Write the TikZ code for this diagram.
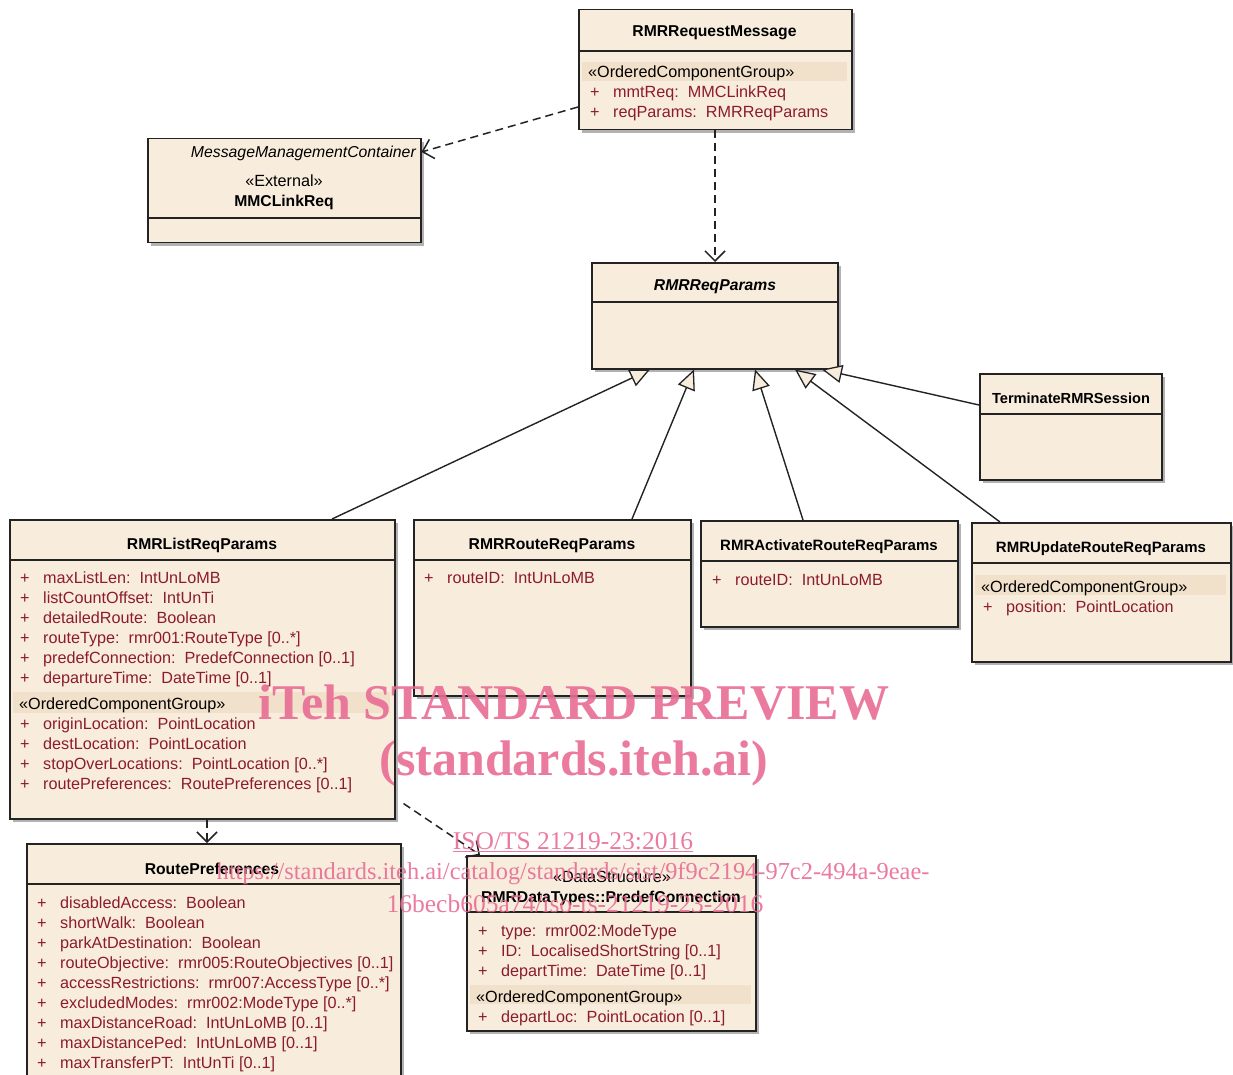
\documentclass[tikz,border=0pt]{standalone}
\usepackage{fontspec}
\setmainfont{Liberation Sans}
\newfontfamily\wmfont{Liberation Serif}
\usetikzlibrary{arrows.meta,calc}
\definecolor{clsfill}{RGB}{248,237,221}
\definecolor{bandfill}{RGB}{242,225,202}
\definecolor{attrc}{RGB}{140,28,42}
\definecolor{shadowc}{RGB}{178,178,178}
\definecolor{wmc}{RGB}{232,108,148}
\definecolor{linec}{RGB}{35,35,35}
\newcommand{\umlshadow}[4]{\fill[shadowc] (#1+4,#2+4) rectangle (#1+#3+4,#2+#4+4);}
\newcommand{\umlsep}[3]{\draw[sepline] (#1,#3) -- (#1+#2,#3);}
\newcommand{\umlband}[4]{\fill[bandfill] (#1+4,#3) rectangle (#1+#2-4,#4);}
\begin{document}
\begin{tikzpicture}[x=1pt,y=-1pt,
  cls/.style={draw=linec, fill=clsfill, line width=1.5pt, inner sep=0pt, anchor=north west},
  sepline/.style={draw=linec, line width=1.5pt},
  txt/.style={inner sep=0pt, anchor=west, yshift=-2pt, text height=11pt, text depth=3pt, font=\fontsize{16.2}{18}\selectfont},
  ttl/.style={inner sep=0pt, anchor=center, yshift=-2pt, text height=11pt, text depth=3pt, font=\fontsize{15.7}{18}\selectfont\bfseries},
  attr/.style={txt, text=attrc},
  dep/.style={draw=linec, line width=1.5pt, dash pattern=on 8pt off 5pt, -{Straight Barb[length=10pt,width=20pt,line width=1.5pt]}},
  gen/.style={draw=linec, line width=1.4pt, -{Triangle[fill=clsfill,length=20pt,width=18pt,line width=1.3pt]}},
  wm/.style={inner sep=0pt, anchor=center, text=wmc, opacity=0.9}
]
\useasboundingbox (0,0) rectangle (1233,1075);

% ---------- RMRRequestMessage
\umlshadow{578}{9}{273}{120}
\node[cls, minimum width=273pt, minimum height=120pt] (req) at (578,9) {};
\umlsep{578}{273}{51}
\umlband{578}{273}{62}{81}
\node[ttl] (reqT) at (714.5,31) {RMRRequestMessage};
\node[txt] (reqS) at (588,72) {«OrderedComponentGroup»};
\node[attr] (reqP1) at (590,92) {+};
\node[attr] (reqA1) at (613,92) {mmtReq:\ \ MMCLinkReq};
\node[attr] (reqP2) at (590,112) {+};
\node[attr] (reqA2) at (613,112) {reqParams:\ \ RMRReqParams};

% ---------- MMCLinkReq
\umlshadow{147}{138}{273}{104}
\node[cls, minimum width=273pt, minimum height=104pt] (mmc) at (147,138) {};
\umlsep{147}{273}{218}
\node[txt, anchor=east, font=\fontsize{15.8}{18}\selectfont\itshape] (mmcNS) at (416,152) {MessageManagementContainer};
\node[txt, anchor=center] (mmcS) at (284,181) {«External»};
\node[ttl] (mmcT) at (284,201) {MMCLinkReq};

% ---------- RMRReqParams
\umlshadow{591}{262}{246}{106}
\node[cls, minimum width=246pt, minimum height=106pt] (params) at (591,262) {};
\umlsep{591}{246}{302}
\node[ttl, font=\fontsize{15.7}{18}\selectfont\bfseries\itshape] (paramsT) at (715,284) {RMRReqParams};

% ---------- TerminateRMRSession
\umlshadow{979}{373}{182}{106}
\node[cls, minimum width=182pt, minimum height=106pt] (term) at (979,373) {};
\umlsep{979}{182}{414}
\node[ttl, font=\fontsize{14.6}{18}\selectfont\bfseries] (termT) at (1071,397) {TerminateRMRSession};

% ---------- RMRListReqParams
\umlshadow{9}{519}{385}{299}
\node[cls, minimum width=385pt, minimum height=299pt] (list) at (9,519) {};
\umlsep{9}{385}{560}
\umlband{9}{385}{692}{713}
\node[ttl] (listT) at (202,543) {RMRListReqParams};
\foreach \yy/\tt [count=\i] in {577/{maxListLen:\ \ IntUnLoMB},597/{listCountOffset:\ \ IntUnTi},617/{detailedRoute:\ \ Boolean},637/{routeType:\ \ rmr001:RouteType [0..*]},657/{predefConnection:\ \ PredefConnection [0..1]},677/{departureTime:\ \ DateTime [0..1]},723/{originLocation:\ \ PointLocation},743/{destLocation:\ \ PointLocation},763/{stopOverLocations:\ \ PointLocation [0..*]},783/{routePreferences:\ \ RoutePreferences [0..1]}}{
  \node[attr] (listP\i) at (20,\yy) {+};
  \node[attr] (listA\i) at (43,\yy) {\tt};
}
\node[txt] (listS) at (19,703) {«OrderedComponentGroup»};

% ---------- RMRRouteReqParams
\umlshadow{413}{519}{277}{176}
\node[cls, minimum width=277pt, minimum height=176pt] (route) at (413,519) {};
\umlsep{413}{277}{560}
\node[ttl] (routeT) at (552,543) {RMRRouteReqParams};
\node[attr] (routeP1) at (424,577) {+};
\node[attr] (routeA1) at (447,577) {routeID:\ \ IntUnLoMB};

% ---------- RMRActivateRouteReqParams
\umlshadow{700}{520}{257}{106}
\node[cls, minimum width=257pt, minimum height=106pt] (act) at (700,520) {};
\umlsep{700}{257}{561}
\node[ttl, font=\fontsize{15}{18}\selectfont\bfseries] (actT) at (829,544) {RMRActivateRouteReqParams};
\node[attr] (actP1) at (712,579) {+};
\node[attr] (actA1) at (735,579) {routeID:\ \ IntUnLoMB};

% ---------- RMRUpdateRouteReqParams
\umlshadow{971}{522}{259}{139}
\node[cls, minimum width=259pt, minimum height=139pt] (upd) at (971,522) {};
\umlsep{971}{259}{563}
\umlband{971}{259}{575}{595}
\node[ttl, font=\fontsize{15}{18}\selectfont\bfseries] (updT) at (1101,546) {RMRUpdateRouteReqParams};
\node[txt] (updS) at (981,586) {«OrderedComponentGroup»};
\node[attr] (updP1) at (983,606) {+};
\node[attr] (updA1) at (1006,606) {position:\ \ PointLocation};

% ---------- RoutePreferences
\umlshadow{26}{843}{374}{240}
\node[cls, minimum width=374pt, minimum height=240pt] (pref) at (26,843) {};
\umlsep{26}{374}{884}
\node[ttl] (prefT) at (212,868) {RoutePreferences};
\foreach \yy/\tt [count=\i] in {902/{disabledAccess:\ \ Boolean},922/{shortWalk:\ \ Boolean},942/{parkAtDestination:\ \ Boolean},962/{routeObjective:\ \ rmr005:RouteObjectives [0..1]},982/{accessRestrictions:\ \ rmr007:AccessType [0..*]},1002/{excludedModes:\ \ rmr002:ModeType [0..*]},1022/{maxDistanceRoad:\ \ IntUnLoMB [0..1]},1042/{maxDistancePed:\ \ IntUnLoMB [0..1]},1062/{maxTransferPT:\ \ IntUnTi [0..1]}}{
  \node[attr] (prefP\i) at (37,\yy) {+};
  \node[attr] (prefA\i) at (60,\yy) {\tt};
}

% ---------- PredefConnection
\umlshadow{466}{855}{289}{175}
\node[cls, minimum width=289pt, minimum height=175pt] (predef) at (466,855) {};
\umlsep{466}{289}{912}
\umlband{466}{289}{985}{1004}
\node[txt, anchor=center] (predefS) at (612,876) {«DataStructure»};
\node[ttl] (predefT) at (611,896) {RMRDataTypes::PredefConnection};
\foreach \yy/\tt [count=\i] in {930/{type:\ \ rmr002:ModeType},950/{ID:\ \ LocalisedShortString [0..1]},970/{departTime:\ \ DateTime [0..1]}}{
  \node[attr] (predefP\i) at (478,\yy) {+};
  \node[attr] (predefA\i) at (501,\yy) {\tt};
}
\node[txt] (predefS2) at (476,996) {«OrderedComponentGroup»};
\node[attr] (predefP4) at (478,1016) {+};
\node[attr] (predefA4) at (501,1016) {departLoc:\ \ PointLocation [0..1]};

% ---------- connectors
\draw[dep] ([yshift=-98pt]req.north west) -- ([yshift=-14pt]mmc.north east);
\draw[dep] ([xshift=137pt]req.south west) -- ([xshift=124pt]params.north west);
\draw[gen] ([xshift=323pt]list.north west) -- ([xshift=59pt]params.south west);
\draw[gen] ([xshift=219pt]route.north west) -- ([xshift=103pt]params.south west);
\draw[gen] ([xshift=103pt]act.north west) -- ([xshift=164pt]params.south west);
\draw[gen] ([xshift=29pt]upd.north west) -- ([xshift=204pt]params.south west);
\draw[gen] ([yshift=-32pt]term.north west) -- ([xshift=231pt]params.south west);
\draw[dep] ([xshift=198pt]list.south west) -- ([xshift=181pt]pref.north west);
\draw[dep] ([xshift=8pt,yshift=16pt]list.south east) -- ([xshift=14pt]predef.north west);

% ---------- watermark
\node[wm, font=\wmfont\fontsize{50}{54}\selectfont\bfseries] (wm1) at (574,703) {iTeh STANDARD PREVIEW};
\node[wm, font=\wmfont\fontsize{50}{54}\selectfont\bfseries] (wm2) at (574,763) {(standards.iteh.ai)};
\node[wm, font=\wmfont\fontsize{25.5}{28}\selectfont] (wm3) at (573,842) {\underline{ISO/TS 21219-23:2016}};
\node[wm, font=\wmfont\fontsize{24.4}{28}\selectfont] (wm4) at (573,874) {https://standards.iteh.ai/catalog/standards/sist/9f9c2194-97c2-494a-9eae-};
\node[wm, font=\wmfont\fontsize{25.5}{28}\selectfont] (wm5) at (575,904) {16becb605a74/iso-ts-21219-23-2016};
\end{tikzpicture}
\end{document}
